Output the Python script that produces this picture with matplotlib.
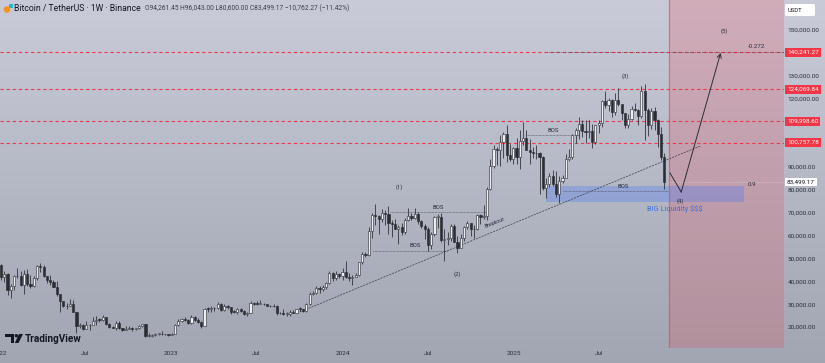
import numpy as np
import pandas as pd
import matplotlib
matplotlib.use('Agg')
import matplotlib.pyplot as plt
import matplotlib.dates as mdates
import matplotlib.transforms as mtransforms
from matplotlib.patches import Rectangle, Circle, Polygon, FancyBboxPatch

plt.rcParams['font.family'] = ['Roboto', 'DejaVu Sans']

# weekly BTCUSDT candles, week of 2022-01-03 .. week of 2025-11-17
first_open = 47300
closes = [
    # 2022
    41800, 43100, 36300, 38150, 42400, 42200, 38400, 43200, 38800, 37800, 41300, 46800, 46400,
    42200, 40400, 39500, 37700, 34300, 31300, 29400, 29000, 29900, 26600, 20600, 21000, 19300,
    20850, 20800, 22580, 23300, 23200, 24300, 21500, 20000, 19800, 21800, 19400, 18800, 19300,
    19400, 19200, 19550, 20600, 21300, 16300, 16300, 16400, 17100, 17100, 16800, 16800, 16600,
    # 2023
    17100, 20900, 22700, 23500, 23000, 21800, 24600, 23200, 22200, 20600, 28000, 27900, 28400,
    28300, 30300, 27600, 29200, 28700, 26800, 26750, 28100, 27100, 25900, 26300, 30500, 30300,
    30100, 30200, 29900, 29200, 29050, 29300, 26100, 26000, 25800, 25800, 26500, 26250, 27950,
    27900, 26850, 29900, 34500, 35000, 37050, 36550, 37450, 39450, 43800, 41350, 43000, 42300,
    # 2024
    43900, 41700, 41600, 42100, 42600, 48300, 52100, 51700, 62000, 68900, 68400, 67200, 69700,
    69300, 65700, 64900, 63100, 64000, 61500, 67000, 68500, 67800, 69600, 66200, 64250, 62700,
    55850, 60800, 68200, 68250, 58200, 58700, 58900, 64200, 57300, 54800, 59100, 63600, 65600,
    62800, 62850, 69000, 68000, 68700, 80300, 90400, 97900, 97300, 101100, 104400, 95200, 93700,
    98350,
    # 2025
    94500, 101300, 102600, 97700, 96500, 96100, 96250, 94270, 80700, 82600, 86100, 82400, 78400,
    83700, 85200, 93700, 94300, 104100, 106400, 109000, 105700, 105500, 105600, 100900, 108400,
    109200, 119000, 117300, 119400, 114200, 119300, 117400, 113500, 108300, 111100, 115300,
    115200, 112200, 123500, 115100, 108600, 114500, 110500, 104700, 94261.45, 83499.17,
]
highs = [
    47500, 44400, 43500, 38900, 42600, 45800, 44700, 44900, 45400, 42600, 42300, 47000, 48200,
    47000, 41500, 42900, 40800, 40000, 34500, 31300, 30600, 32400, 31700, 26800, 21800, 21500,
    22500, 21200, 24300, 24700, 24000, 25200, 24450, 21900, 20500, 22800, 22700, 19700, 20400,
    20500, 19900, 19700, 21000, 21500, 21500, 17200, 16800, 17400, 17400, 18400, 17000, 17000,
    17200, 21400, 23400, 23800, 24300, 23400, 25250, 25000, 23900, 22600, 28400, 28900, 29200,
    28800, 31000, 30500, 30000, 29800, 28800, 27600, 28300, 28400, 27300, 26800, 31400, 31000,
    31500, 31800, 30400, 29900, 29700, 30200, 29700, 26800, 28100, 26400, 27400, 27500, 28000,
    28600, 28000, 30400, 35200, 35950, 38000, 37900, 38400, 39700, 44700, 44000, 44400, 43800,
    45900, 49000, 43600, 42800, 43800, 48600, 52800, 52900, 64000, 69950, 73800, 68900, 71800,
    71300, 72800, 66800, 67200, 64700, 65500, 67700, 71900, 70000, 71950, 70200, 66900, 65000,
    63800, 61400, 68400, 69400, 70000, 62700, 61800, 65000, 64900, 59800, 60700, 64100, 66500,
    65500, 64500, 69500, 69500, 73600, 81500, 93500, 99600, 98700, 104000, 105300, 108350, 99900,
    99000,
    102700, 106400, 109600, 106400, 102500, 98800, 99500, 96500, 95000, 85300, 87500, 88800, 88500,
    86100, 86500, 95750, 97900, 104400, 107100, 111900, 110700, 110400, 110600, 108900, 108500,
    110500, 119500, 123200, 120200, 120000, 122300, 124450, 117600, 113600, 113400, 116800,
    117900, 115500, 125700, 126200, 116000, 116000, 116400, 111000, 107500, 96043,
]
lows = [
    40500, 39600, 34000, 32900, 36200, 41600, 38000, 34300, 37800, 37100, 37600, 40500, 44200,
    41900, 39200, 38500, 37600, 33700, 26700, 28600, 28000, 29300, 26500, 17600, 19600, 18600,
    19000, 18900, 20800, 20700, 22400, 22700, 20800, 19500, 19500, 18500, 19300, 18100, 18500,
    19000, 18200, 18700, 19200, 20100, 15600, 15800, 15500, 16100, 16700, 16500, 16400, 16300,
    16500, 17000, 20400, 22300, 22500, 21400, 21500, 22800, 21900, 19600, 20500, 26600, 26600,
    27200, 28100, 27100, 26900, 27700, 25800, 26300, 25900, 26500, 25300, 24800, 26250, 29500,
    29700, 30000, 29500, 29000, 28600, 28700, 25100, 25800, 25400, 24900, 25000, 26000, 26000,
    27200, 26500, 26800, 29800, 33900, 34500, 34900, 35700, 36700, 39000, 40200, 40500, 41300,
    40800, 41500, 40300, 38500, 41800, 42300, 47700, 50500, 50900, 59000, 64500, 60800, 66000,
    64500, 60700, 59600, 62800, 56500, 60200, 60700, 66600, 66700, 67500, 65000, 63400, 58400,
    53500, 54300, 59900, 63400, 57100, 49000, 56100, 57800, 57200, 52500, 54600, 57500, 62700,
    59800, 58900, 62400, 65000, 67500, 66800, 80000, 89400, 90800, 90500, 94200, 92100, 92600,
    91500,
    91200, 89300, 99500, 97600, 91200, 94100, 93400, 78200, 80000, 76600, 81100, 81600, 77100,
    74500, 83000, 85100, 92800, 93400, 100700, 102100, 103100, 100400, 102600, 98200, 100300,
    105100, 107500, 115700, 114700, 112000, 112700, 116800, 110700, 107300, 107300, 110600,
    114700, 108600, 111600, 102000, 103500, 106600, 106300, 98900, 93000, 80600,
]
weeks = pd.date_range('2022-01-03', periods=len(closes), freq='7D')

# drawn levels / annotations
levels = [140241.27, 124069.84, 109998.60, 100757.78]
last_price = 83499.17
price_ticks = [150000, 130000, 120000, 90000, 80000, 70000, 60000, 50000, 40000, 30000, 20000]
date_ticks = ['2022-01-01', '2022-07-01', '2023-01-01', '2023-07-01',
              '2024-01-01', '2024-07-01', '2025-01-01', '2025-07-01']
date_labels = ['2022', 'Jul', '2023', 'Jul', '2024', 'Jul', '2025', 'Jul']

trend_dates = ['2023-10-02', '2026-02-01']
trend_prices = [26600, 99200]
bos_lines = [
    ('2024-04-11', '2024-11-03', 70500, '2024-07-22', 72500),
    ('2024-03-06', '2024-08-11', 53300, '2024-06-03', 55500),
    ('2025-01-27', '2025-05-21', 104000, '2025-03-25', 106200),
    ('2025-04-15', '2025-11-25', 79500, '2025-08-21', 81300),
]
box_dates = ['2025-03-10', '2026-05-06']
box_prices = [74700, 81700]
zone_start = '2025-11-27'
fib_start = '2025-03-12'
proj_dates = ['2025-11-29', '2025-12-23', '2026-03-17']
proj_prices = [87400, 79100, 140000]
wave_labels = [
    ('(1)', '2024-05-02', 81300), ('(2)', '2024-09-01', 43200),
    ('(3)', '2025-08-25', 129900), ('(4)', '2025-12-22', 75200),
    ('(5)', '2026-03-24', 149600),
]

W, H = 825, 363
fig = plt.figure(figsize=(W / 100, H / 100), dpi=100)

# background gradient
bg = fig.add_axes([0, 0, 1, 1], zorder=0)
top = np.array([0.788, 0.796, 0.847])
bot = np.array([0.630, 0.650, 0.698])
t = np.linspace(0, 1, 256)[:, None]
grad = (top * (1 - t) + bot * t)[:, None, :]
bg.imshow(grad, aspect='auto', extent=[0, 1, 0, 1])
bg.axis('off')

ax = fig.add_axes([0, 15 / H, 784 / W, 348 / H], zorder=1)
ax.set_facecolor('none')
d0 = pd.Timestamp('2022-01-01')
ax.set_xlim(mdates.date2num(d0), mdates.date2num(d0 + pd.Timedelta(days=1671)))
ax.set_ylim(10832, 163129)

dn = lambda s: mdates.date2num(pd.Timestamp(s))
xr = ax.get_xlim()[1]

# future zone
ax.axvspan(dn(zone_start), xr, color='#f23645', alpha=0.2, lw=0, zorder=1)
ax.axvline(dn(zone_start), color='#f23645', lw=0.9, alpha=0.55, zorder=1)

# liquidity box
ax.add_patch(Rectangle((dn(box_dates[0]), box_prices[0]),
                       dn(box_dates[1]) - dn(box_dates[0]), box_prices[1] - box_prices[0],
                       fc='#4d7cf5', alpha=0.33, lw=0, zorder=2))

# horizontal levels
for lv in levels:
    ax.axhline(lv, color='#f2364c', lw=0.8, ls=(0, (3, 2.5)), zorder=2)
ax.plot([dn(fib_start), xr], [levels[0], levels[0]],
        color='#3a3d47', lw=0.5, ls=(0, (1, 1.5)), zorder=2)
ax.plot([dn(zone_start), xr], [last_price, last_price], color='white', lw=0.6,
        ls=(0, (1, 1.5)), alpha=0.45, zorder=2)

# candles
x = mdates.date2num(weeks)
c = np.array(closes, float)
o = np.concatenate([[first_open], c[:-1]])
hi = np.maximum(np.array(highs, float), np.maximum(o, c))
lo = np.minimum(np.array(lows, float), np.minimum(o, c))
up = c >= o
ax.vlines(x, lo, hi, color='#26282e', lw=0.55, zorder=4)
ax.bar(x, np.maximum(np.abs(c - o), 250), bottom=np.minimum(o, c), width=4.6,
       color=np.where(up, '#eceef2', '#2b2d33'), edgecolor='#26282e', lw=0.4, zorder=5)

# trendline
ax.plot([dn(d) for d in trend_dates], trend_prices, color='#3a3d47', lw=0.5,
        ls=(0, (3, 1.5)), zorder=3)
ax.text(dn('2024-11-20'), 65500, 'Breakout', fontsize=3.8, color='#2a2e39',
        rotation=22, ha='center', va='center', zorder=6)

# BOS lines
for d1, d2, p, td, tp in bos_lines:
    ax.plot([dn(d1), dn(d2)], [p, p], color='#4a4d58', lw=0.5, ls=(0, (1, 1)), zorder=3)
    ax.text(dn(td), tp, 'BOS', fontsize=4.2, color='#2a2e39', ha='center', va='center', zorder=6)

# projection path
px = [dn(d) for d in proj_dates]
ax.plot(px[:2], proj_prices[:2], color='#2a2e39', lw=0.7, zorder=6)
ax.annotate('', xy=(px[2], proj_prices[2]), xytext=(px[1], proj_prices[1]),
            arrowprops=dict(arrowstyle='->,head_length=0.3,head_width=0.15', lw=0.7,
                            color='#2a2e39', shrinkA=0, shrinkB=0), zorder=6)

for lab, d, p in wave_labels:
    ax.text(dn(d), p, lab, fontsize=4.2, color='#2a2e39', ha='center', va='center', zorder=6)
ax.text(dn('2026-06-01'), 142600, '-0.272', fontsize=4.4, color='#2a2e39', ha='center', va='center')
ax.text(dn('2026-05-22'), 82200, '0.9', fontsize=4.4, color='#2a2e39', ha='center', va='center')
ax.text(dn('2025-12-10'), 71700, 'BIG Liquidity $$$', fontsize=5.3, color='#3b6fe6',
        ha='center', va='center', zorder=6)

# axes
for s in ax.spines.values():
    s.set_visible(False)
ax.yaxis.tick_right()
ax.set_yticks(price_ticks)
ax.set_yticklabels([f'{v:,.2f}' for v in price_ticks])
ax.set_xticks([dn(d) for d in date_ticks])
ax.set_xticklabels(date_labels)
ax.tick_params(axis='y', length=0, pad=2.5, labelsize=4.6, labelcolor='#2a2e39')
ax.tick_params(axis='x', length=0, pad=2.5, labelsize=4.6, labelcolor='#2a2e39')

trans = mtransforms.blended_transform_factory(ax.transAxes, ax.transData)
for lv in levels:
    ax.text(1.0 + 3 / 784, lv, f'{lv:,.2f}', transform=trans, ha='left', va='center',
            fontsize=4.6, color='white', clip_on=False, zorder=8,
            bbox=dict(boxstyle='square,pad=0.3', fc='#f23645', ec='none'))
ax.text(1.0 + 3 / 784, last_price, f'{last_price:,.2f}', transform=trans, ha='left',
        va='center', fontsize=4.6, color='#131722', clip_on=False, zorder=8,
        bbox=dict(boxstyle='square,pad=0.3', fc='white', ec='none'))

# overlay in pixel coords: header, logo, unit box
ov = fig.add_axes([0, 0, 1, 1], zorder=3)
ov.set_xlim(0, W)
ov.set_ylim(H, 0)
ov.axis('off')
ov.add_patch(Circle((7, 9.5), 3.3, fc='#f7931a', ec='none'))
ov.add_patch(Rectangle((8.5, 3.5), 4, 4, fc='#2bb5c9', ec='none'))
ov.text(14, 8.5, 'Bitcoin / TetherUS · 1W · Binance', fontsize=6.2, color='#131722', va='center')
ov.text(145, 8.5, 'O94,261.45 H96,043.00 L80,600.00 C83,499.17 \u221210,762.27 (\u221211.42%)',
        fontsize=4.8, color='#3b3f4a', va='center')
ov.add_patch(FancyBboxPatch((785, 4), 30, 12, boxstyle='round,pad=0,rounding_size=1.5',
                            fc='white', ec='none'))
ov.text(788, 10, 'USDT', fontsize=4.2, color='#131722', va='center')
ov.add_patch(Polygon([(5, 334), (14, 334), (14, 343), (10.5, 343), (10.5, 337), (5, 337)],
                     closed=True, fc='#131722', ec='none'))
ov.add_patch(Circle((16.3, 335.7), 1.7, fc='#131722', ec='none'))
ov.add_patch(Polygon([(19, 334), (23, 334), (18.5, 343), (14.8, 343)],
                     closed=True, fc='#131722', ec='none'))
ov.text(25, 338.5, 'TradingView', fontsize=7.2, fontweight='bold', color='#131722', va='center')

fig.savefig('out.png', dpi=100)
